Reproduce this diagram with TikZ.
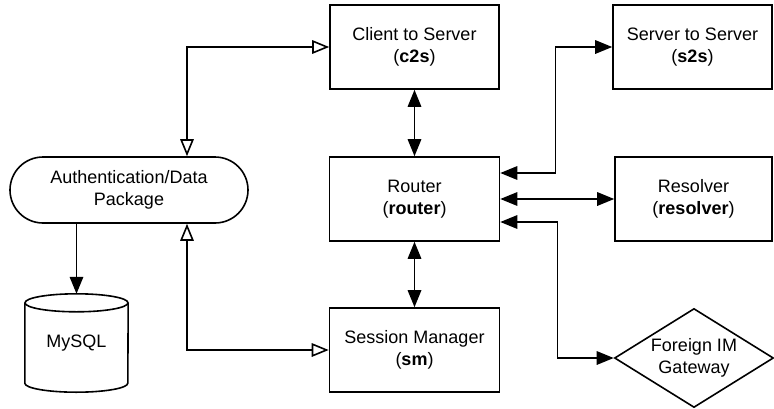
\documentclass[tikz,border=0pt]{standalone}
\usepackage{fontspec}
\setmainfont{Liberation Sans}
\usetikzlibrary{arrows.meta,shapes.geometric}

\tikzset{
  txt/.style={font=\fontsize{18}{22.5}\selectfont},
  base/.style={draw, line width=1.6pt, align=center, inner sep=0pt, txt},
  box/.style={base, rectangle, minimum height=84pt},
  pill/.style={base, rectangle, rounded corners=33pt,
    minimum width=238pt, minimum height=66pt},
  gate/.style={base, diamond, aspect=1.6, minimum width=159pt, minimum height=99pt},
  plain/.style={align=center, inner sep=0pt, txt},
  tip/.style={Triangle[length=17pt,width=13.5pt]},
  otip/.style={Triangle[open,fill=white,length=17pt,width=13.5pt]},
  link/.style={line width=1.6pt, {Triangle[length=17pt,width=13.5pt]}-{Triangle[length=17pt,width=13.5pt]}},
  oneway/.style={line width=1.6pt, -{Triangle[length=17pt,width=13.5pt]}},
  openlink/.style={line width=1.6pt,
    {Triangle[open,fill=white,length=17pt,width=13.5pt]}-{Triangle[open,fill=white,length=17pt,width=13.5pt]}}
}

\begin{document}
\begin{tikzpicture}[x=1pt, y=-1pt]
  \useasboundingbox (0,0) rectangle (774,408);

  % components
  \node[box, minimum width=169pt] (c2s) at (414.5,47) {Client to Server\\(\textbf{c2s})};
  \node[box, minimum width=159pt] (s2s) at (692.5,47) {Server to Server\\(\textbf{s2s})};
  \node[box, minimum width=170pt] (router) at (414.5,199) {Router\\(\textbf{router})};
  \node[box, minimum width=157pt] (resolver) at (693.5,199) {Resolver\\(\textbf{resolver})};
  \node[box, minimum width=170pt] (sm) at (414.5,350) {Session Manager\\(\textbf{sm})};
  \node[pill] (auth) at (129,190) {Authentication/Data\\Package};
  \node[gate] (gw) at (694,358) {Foreign IM\\Gateway};

  % database cylinder
  \node[plain, minimum width=103pt, minimum height=98pt] (db) at (76.5,343) {MySQL};
  \begin{scope}[line width=1.6pt]
    \draw ([yshift=-9pt]db.north west) -- ([yshift=9pt]db.south west)
          arc[start angle=180, end angle=360, x radius=51.5pt, y radius=9pt]
          -- ([yshift=-9pt]db.north east);
    \draw ([yshift=-9pt]db.north) ellipse[x radius=51.5pt, y radius=9pt];
  \end{scope}

  % connectors
  \draw[openlink] ([xshift=58pt]auth.north) |- (c2s.west);
  \draw[openlink] ([xshift=58pt]auth.south) |- (sm.west);
  \draw[oneway] (auth.south -| db.north) -- (db.north);
  \draw[link] (c2s.south) -- (router.north);
  \draw[link] (router.south) -- (sm.north);
  \draw[link] ([yshift=26pt]router.east) -- ++(55,0) |- (s2s.west);
  \draw[link] (router.east) -- (resolver.west);
  \draw[link] ([yshift=-23pt]router.east) -- ++(57,0) |- (gw.west);
\end{tikzpicture}
\end{document}
